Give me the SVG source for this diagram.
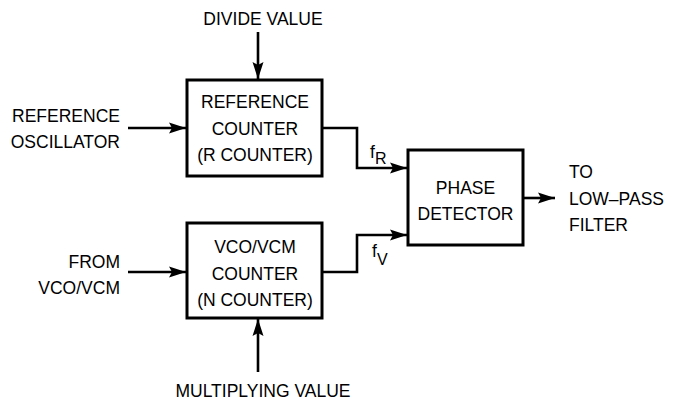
<svg xmlns="http://www.w3.org/2000/svg" width="678" height="400" viewBox="0 0 678 400">
<style>
text{font-family:"Liberation Sans",Arial,sans-serif;font-size:17.5px;fill:#000}
.c{text-anchor:middle}
.r{text-anchor:end}
.box{fill:#fff;stroke:#000;stroke-width:3}
.ln{fill:none;stroke:#000;stroke-width:2.6}
.sub{font-size:16px}
</style>
<defs>
<marker id="ah" markerUnits="userSpaceOnUse" markerWidth="18" markerHeight="12" refX="17" refY="6" orient="auto">
<path d="M0,0.5 L17,6 L0,11.5 L3,6 Z" fill="#000"/>
</marker>
</defs>
<g id="connectors">
<line class="ln" x1="258" y1="32" x2="258" y2="79" marker-end="url(#ah)"/>
<line class="ln" x1="128" y1="128" x2="186" y2="128" marker-end="url(#ah)"/>
<polyline class="ln" points="322,128 357,128 357,168 407,168" marker-end="url(#ah)"/>
<line class="ln" x1="128" y1="272" x2="186" y2="272" marker-end="url(#ah)"/>
<polyline class="ln" points="322,272 357,272 357,235 407,235" marker-end="url(#ah)"/>
<line class="ln" x1="258" y1="372" x2="258" y2="319" marker-end="url(#ah)"/>
<line class="ln" x1="523" y1="198" x2="555" y2="198" marker-end="url(#ah)"/>
</g>
<g id="divide-value"><text class="c" x="263" y="25">DIVIDE VALUE</text></g>
<g id="ref-osc"><text class="r" x="120" y="122">REFERENCE</text><text class="r" x="120" y="148">OSCILLATOR</text></g>
<g id="r-counter">
<rect class="box" x="187" y="80" width="135" height="96"/>
<text class="c" x="255" y="108">REFERENCE</text>
<text class="c" x="255" y="135">COUNTER</text>
<text class="c" x="255" y="161">(R COUNTER)</text>
</g>
<g id="fr-label"><text x="370" y="158">f<tspan class="sub" dy="6">R</tspan></text></g>
<g id="phase-detector">
<rect class="box" x="408" y="150" width="115" height="95"/>
<text class="c" x="465.5" y="194">PHASE</text>
<text class="c" x="465.5" y="220">DETECTOR</text>
</g>
<g id="fv-label"><text x="372" y="257">f<tspan class="sub" dy="8">V</tspan></text></g>
<g id="output"><text x="569" y="178">TO</text><text x="569" y="205">LOW–PASS</text><text x="569" y="231">FILTER</text></g>
<g id="from-vco"><text class="r" x="120" y="268">FROM</text><text class="r" x="120" y="294">VCO/VCM</text></g>
<g id="n-counter">
<rect class="box" x="187" y="223" width="135" height="95"/>
<text class="c" x="255" y="253">VCO/VCM</text>
<text class="c" x="255" y="280">COUNTER</text>
<text class="c" x="255" y="306">(N COUNTER)</text>
</g>
<g id="multiplying-value"><text class="c" x="263" y="397">MULTIPLYING VALUE</text></g>
</svg>
